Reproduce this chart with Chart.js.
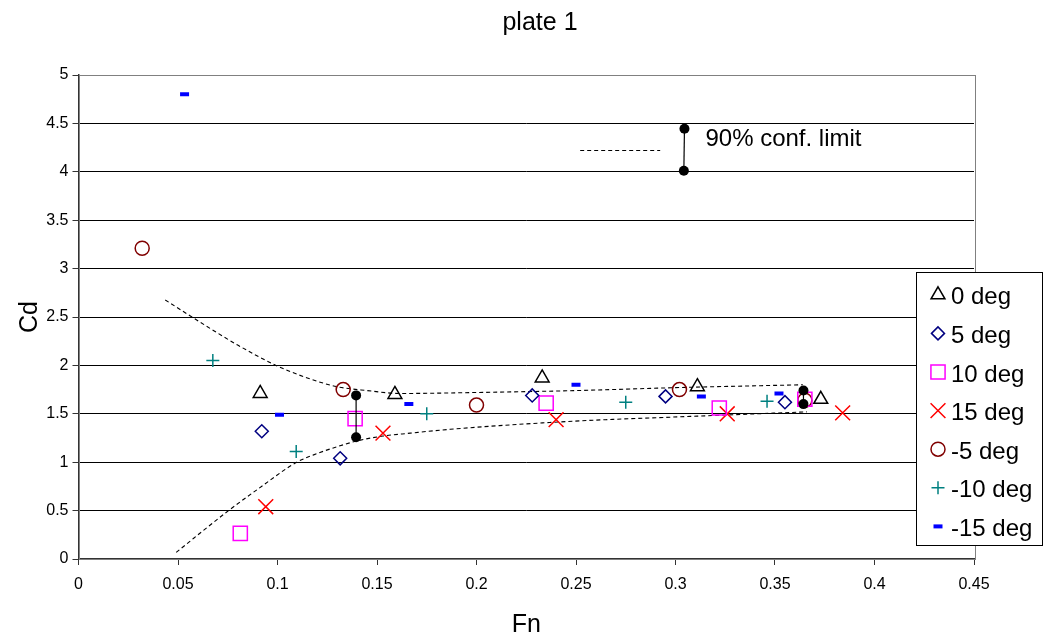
<!DOCTYPE html>
<html><head><meta charset="utf-8">
<script src="https://cdn.jsdelivr.net/npm/chart.js@4"></script>
<style>html,body{margin:0;padding:0;background:#fff;} #wrap{width:1045px;height:641px;}</style>
</head><body><div id="wrap"><canvas id="c" width="1045" height="641"></canvas></div>
<script>
// ---------- data ----------
const chartTitle = 'plate 1';
const xTitle = 'Fn';
const yTitle = 'Cd';
const xTicks = [0, 0.05, 0.1, 0.15, 0.2, 0.25, 0.3, 0.35, 0.4, 0.45];
const yTicks = [0, 0.5, 1, 1.5, 2, 2.5, 3, 3.5, 4, 4.5, 5];
const seriesNames = ['0 deg', '5 deg', '10 deg', '15 deg', '-5 deg', '-10 deg', '-15 deg'];

const fn0   = [0.0913, 0.159, 0.233, 0.311, 0.373];
const cd0   = [1.71, 1.70, 1.87, 1.78, 1.65];
const fn5   = [0.0921, 0.1315, 0.228, 0.295, 0.355];
const cd5   = [1.32, 1.04, 1.69, 1.68, 1.62];
const fn10  = [0.0813, 0.139, 0.235, 0.322, 0.365];
const cd10  = [0.265, 1.45, 1.61, 1.56, 1.65];
const fn15  = [0.0941, 0.153, 0.240, 0.326, 0.384];
const cd15  = [0.54, 1.30, 1.44, 1.50, 1.51];
const fnM5  = [0.032, 0.133, 0.200, 0.302, 0.365];
const cdM5  = [3.21, 1.75, 1.59, 1.75, 1.64];
const fnM10 = [0.0675, 0.1094, 0.175, 0.275, 0.346];
const cdM10 = [2.05, 1.11, 1.50, 1.62, 1.63];
const fnM15 = [0.0533, 0.101, 0.166, 0.250, 0.313, 0.352];
const cdM15 = [4.80, 1.49, 1.60, 1.80, 1.68, 1.71];

// 90% confidence limit curves
const upperFn = [0.0436, 0.057, 0.080, 0.0993, 0.115, 0.130, 0.145, 0.162, 0.200, 0.250, 0.300, 0.364];
const upperCd = [2.676, 2.50, 2.21, 2.00, 1.87, 1.78, 1.74, 1.71, 1.72, 1.74, 1.77, 1.80];
const lowerFn = [0.0491, 0.0754, 0.090, 0.1097, 0.120, 0.130, 0.140, 0.153, 0.1667, 0.1868, 0.2454, 0.3124, 0.366];
const lowerCd = [0.069, 0.50, 0.72, 1.00, 1.09, 1.16, 1.22, 1.27, 1.30, 1.34, 1.42, 1.477, 1.52];

// confidence bars
const barAFn = [0.1395, 0.1395];
const barACd = [1.69, 1.257];
const barBFn = [0.3643, 0.3643];
const barBCd = [1.74, 1.60];

// key for the confidence limit
const keyLineFn = [0.2521, 0.2923];
const keyLineCd = [4.22, 4.22];
const keyBarFn  = [0.3045, 0.3042];
const keyBarCd  = [4.445, 4.01];
const keyText   = '90% conf. limit';

// ---------- styles ----------
const FONT = "'Liberation Sans', Arial, sans-serif";
const markerStyles = [
  {pointStyle: 'triangle', color: '#000000', radius: 8,   borderWidth: 1.5, fill: false},
  {pointStyle: 'rectRot',  color: '#000080', radius: 6.5, borderWidth: 1.5, fill: false},
  {pointStyle: 'rect',     color: '#FF00FF', radius: 10,  borderWidth: 1.5, fill: false},
  {pointStyle: 'crossRot', color: '#FF0000', radius: 10.5,borderWidth: 1.5, fill: false},
  {pointStyle: 'circle',   color: '#800000', radius: 7,   borderWidth: 1.5, fill: false},
  {pointStyle: 'cross',    color: '#008080', radius: 6.5, borderWidth: 1.5, fill: false},
  {pointStyle: 'line',     color: '#0000FF', radius: 4.5, borderWidth: 4,   fill: true}
];

const pts = (xs, ys) => xs.map((x, i) => ({x: x, y: ys[i]}));
const seriesX = [fn0, fn5, fn10, fn15, fnM5, fnM10, fnM15];
const seriesY = [cd0, cd5, cd10, cd15, cdM5, cdM10, cdM15];

const datasets = [];
seriesNames.forEach((name, i) => {
  const s = markerStyles[i];
  datasets.push({
    label: name,
    data: pts(seriesX[i], seriesY[i]),
    showLine: false,
    pointStyle: s.pointStyle,
    pointRadius: s.radius,
    pointBorderWidth: s.borderWidth,
    pointBorderColor: s.color,
    pointBackgroundColor: s.fill ? s.color : 'rgba(0,0,0,0)',
    order: 2
  });
});
const dashedLine = (data) => ({
  data: data, showLine: true, borderColor: '#000', borderWidth: 1.1, borderDash: [4, 3],
  pointRadius: 0, cubicInterpolationMode: 'monotone', fill: false, order: 3
});
datasets.push(dashedLine(pts(upperFn, upperCd)));
datasets.push(dashedLine(pts(lowerFn, lowerCd)));
datasets.push(Object.assign(dashedLine(pts(keyLineFn, keyLineCd)), {cubicInterpolationMode: 'default'}));
const bar = (data) => ({
  data: data, showLine: true, borderColor: '#000', borderWidth: 1.2,
  pointRadius: 5, pointStyle: 'circle', pointBackgroundColor: '#000', pointBorderColor: '#000',
  pointBorderWidth: 0, fill: false, order: 0
});
datasets.push(bar(pts(barAFn, barACd)));
datasets.push(bar(pts(barBFn, barBCd)));
datasets.push(bar(pts(keyBarFn, keyBarCd)));

// ---------- plugins ----------
const frame = {
  id: 'frame',
  beforeDatasetsDraw(chart) {
    const a = chart.chartArea, ctx = chart.ctx;
    ctx.save();
    ctx.strokeStyle = '#808080';
    ctx.lineWidth = 1;
    ctx.strokeRect(Math.round(a.left) + 0.5, Math.round(a.top) + 0.5,
                   Math.round(a.right - a.left), Math.round(a.bottom - a.top));
    ctx.restore();
  }
};

function drawMarker(ctx, s, x, y) {
  ctx.save();
  ctx.strokeStyle = s.color;
  ctx.fillStyle = s.fill ? s.color : 'rgba(0,0,0,0)';
  ctx.lineWidth = s.borderWidth;
  Chart.helpers.drawPoint(ctx, {pointStyle: s.pointStyle, radius: s.radius, rotation: 0, borderWidth: s.borderWidth}, x, y);
  ctx.restore();
}

const texts = {
  id: 'texts',
  afterDraw(chart) {
    const ctx = chart.ctx, xs = chart.scales.x, ys = chart.scales.y;
    ctx.save();
    ctx.fillStyle = '#000';
    ctx.textBaseline = 'alphabetic';
    // title
    ctx.font = '25px ' + FONT;
    ctx.textAlign = 'center';
    ctx.fillText(chartTitle, 540, 30);
    // key text
    ctx.font = '24px ' + FONT;
    ctx.textAlign = 'left';
    ctx.fillText(keyText, xs.getPixelForValue(keyBarFn[0]) + 21, ys.getPixelForValue(keyBarCd[1]) - 25);
    // legend
    const L = 916, T = 272, W = 127, H = 274;
    ctx.fillStyle = '#fff';
    ctx.fillRect(L, T, W, H);
    ctx.strokeStyle = '#000';
    ctx.lineWidth = 1;
    ctx.strokeRect(L + 0.5, T + 0.5, W - 1, H - 1);
    ctx.font = '24px ' + FONT;
    seriesNames.forEach((name, i) => {
      const base = 304.3 + i * 38.6;
      drawMarker(ctx, markerStyles[i], 938, base - 9.5);
      ctx.fillStyle = '#000';
      ctx.fillText(name, 951, base);
    });
    ctx.restore();
  }
};

// ---------- chart ----------
new Chart(document.getElementById('c'), {
  type: 'scatter',
  data: {datasets: datasets},
  options: {
    responsive: false,
    animation: false,
    devicePixelRatio: 1,
    events: [],
    layout: {padding: {top: 75, right: 71, bottom: 0, left: 0}},
    plugins: {legend: {display: false}, title: {display: false}, tooltip: {enabled: false}},
    scales: {
      x: {
        type: 'linear', min: 0, max: 0.45,
        afterBuildTicks: s => { s.ticks = xTicks.map(v => ({value: v})); },
        afterFit: s => { s.height = 82; },
        ticks: {
          autoSkip: false, maxRotation: 0, padding: 10, color: '#000',
          font: {family: FONT, size: 16},
          callback: v => String(+Number(v).toFixed(2))
        },
        grid: {drawOnChartArea: false, drawTicks: true, tickLength: 6, tickColor: '#333'},
        border: {display: true, color: '#333', width: 1.5},
        title: {display: true, text: xTitle, color: '#000', font: {family: FONT, size: 25}, padding: {top: 0, bottom: 1}}
      },
      y: {
        type: 'linear', min: 0, max: 5,
        afterBuildTicks: s => { s.ticks = yTicks.map(v => ({value: v})); },
        afterFit: s => { s.width = 78.5; },
        ticks: {
          autoSkip: false, padding: 4, color: '#000',
          font: {family: FONT, size: 16},
          callback: v => String(+Number(v).toFixed(1))
        },
        grid: {color: '#000', lineWidth: 1, drawTicks: true, tickLength: 6, tickColor: '#333'},
        border: {display: true, color: '#333', width: 1.5},
        title: {display: true, text: yTitle, color: '#000', font: {family: FONT, size: 25}, padding: {top: 15, bottom: 0}}
      }
    }
  },
  plugins: [frame, texts]
});
</script>
</body></html>
